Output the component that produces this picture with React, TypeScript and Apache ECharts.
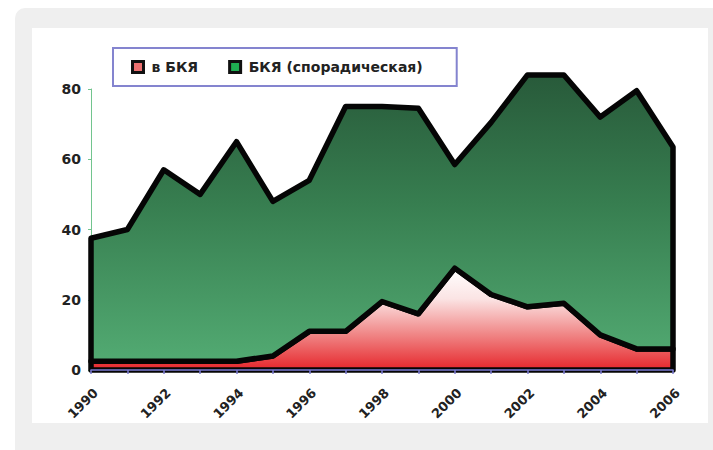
import React, { useEffect, useRef } from "react";
import * as echarts from "echarts";

// Years on the category axis
const years = [
  "1990", "1991", "1992", "1993", "1994", "1995", "1996", "1997", "1998",
  "1999", "2000", "2001", "2002", "2003", "2004", "2005", "2006",
];

// Cases within БКЯ (bottom layer)
const inBky = [2.5, 2.5, 2.5, 2.5, 2.5, 4, 11, 11, 19.5, 16, 29, 21.5, 18, 19, 10, 6, 6];

// Sporadic БКЯ cases (stacked on top)
const sporadic = [35, 37.5, 54.5, 47.5, 62.5, 44, 43, 64, 55.5, 58.5, 29.5, 49, 66, 65, 62, 73.5, 57.5];

const seriesNames = ["в БКЯ", "БКЯ (спорадическая)"];

const FONT = "'DejaVu Sans', Arial, sans-serif";

export default function App() {
  const ref = useRef<HTMLDivElement>(null);

  useEffect(() => {
    if (!ref.current) return;
    const chart = echarts.init(ref.current, null, { renderer: "svg" });

    const zeros = years.map(() => 0);
    const totals = sporadic.map((v, i) => v + inBky[i]);

    const redFill = new echarts.graphic.LinearGradient(0, 0, 0, 1, [
      { offset: 0, color: "#ffffff" },
      { offset: 0.3, color: "#fbe4e4" },
      { offset: 0.65, color: "#f08686" },
      { offset: 1, color: "#e6262b" },
    ]);
    const greenFill = new echarts.graphic.LinearGradient(0, 0, 0, 1, [
      { offset: 0, color: "#285a3a" },
      { offset: 0.45, color: "#377e50" },
      { offset: 1, color: "#52aa72" },
    ]);

    // Each stacked layer is drawn as one closed polygon with a black outline
    const layer = (lower: number[], upper: number[], fill: any) =>
      (params: any, api: any) => {
        if (params.dataIndex !== 0) return null;
        const top = upper.map((v, i) => api.coord([i, v]));
        const bottom = lower.map((v, i) => api.coord([i, v])).reverse();
        return {
          type: "polygon",
          shape: { points: [...top, ...bottom] },
          style: {
            fill,
            stroke: "#050505",
            lineWidth: 5.5,
            lineJoin: "round",
          },
        };
      };

    chart.setOption({
      animation: false,
      grid: { left: 91, right: 40, top: 89, bottom: 80, containLabel: false },
      legend: {
        left: 113,
        top: 48,
        orient: "horizontal",
        selectedMode: false,
        padding: [12, 34, 12, 18],
        borderColor: "#8484cf",
        borderWidth: 2,
        backgroundColor: "#ffffff",
        itemWidth: 11,
        itemHeight: 11,
        itemGap: 30,
        icon: "rect",
        textStyle: {
          fontFamily: FONT,
          fontWeight: "bold",
          fontSize: 14,
          color: "#222222",
          padding: [0, 0, 0, 3],
        },
        data: [
          {
            name: seriesNames[0],
            itemStyle: { color: "#ec7070", borderColor: "#111111", borderWidth: 3 },
          },
          {
            name: seriesNames[1],
            itemStyle: { color: "#1fae52", borderColor: "#111111", borderWidth: 3 },
          },
        ],
      },
      xAxis: {
        type: "category",
        data: years,
        boundaryGap: false,
        z: 5,
        axisLine: { show: true, lineStyle: { color: "#7b7bd2", width: 1.5 } },
        axisTick: {
          show: true,
          interval: 0,
          length: 4,
          lineStyle: { color: "#7b7bd2", width: 1.5 },
        },
        axisLabel: {
          interval: 1,
          rotate: 45,
          margin: 16,
          verticalAlign: "top",
          fontFamily: FONT,
          fontWeight: "bold",
          fontSize: 13,
          color: "#222222",
        },
        splitLine: { show: false },
      },
      yAxis: {
        type: "value",
        min: 0,
        max: 80,
        interval: 20,
        axisLine: { show: true, lineStyle: { color: "#72c48e", width: 1 } },
        axisTick: { show: true, length: 3, lineStyle: { color: "#72c48e" } },
        axisLabel: {
          margin: 10,
          fontFamily: FONT,
          fontWeight: "bold",
          fontSize: 14,
          color: "#222222",
        },
        splitLine: { show: false },
      },
      series: [
        {
          name: seriesNames[0],
          type: "custom",
          clip: false,
          z: 2,
          itemStyle: { color: "#ec7070" },
          encode: { x: 0, y: 1 },
          data: inBky.map((v, i) => [i, v]),
          renderItem: layer(zeros, inBky, redFill),
        },
        {
          name: seriesNames[1],
          type: "custom",
          clip: false,
          z: 3,
          itemStyle: { color: "#1fae52" },
          encode: { x: 0, y: 1 },
          data: totals.map((v, i) => [i, v]),
          renderItem: layer(inBky, totals, greenFill),
        },
      ],
    });

    return () => chart.dispose();
  }, []);

  return (
    <div
      style={{
        position: "fixed",
        left: 0,
        top: 0,
        width: 713,
        height: 450,
        background: "#ffffff",
        overflow: "hidden",
      }}
    >
      <div
        style={{
          position: "absolute",
          left: 15,
          top: 8,
          width: 698,
          height: 442,
          background: "#efefef",
          borderTopLeftRadius: 10,
        }}
      />
      <div
        style={{
          position: "absolute",
          left: 32,
          top: 28,
          width: 676,
          height: 395,
          background: "#ffffff",
        }}
      />
      <div
        ref={ref}
        style={{ position: "absolute", left: 0, top: 0, width: 713, height: 450 }}
      />
    </div>
  );
}
